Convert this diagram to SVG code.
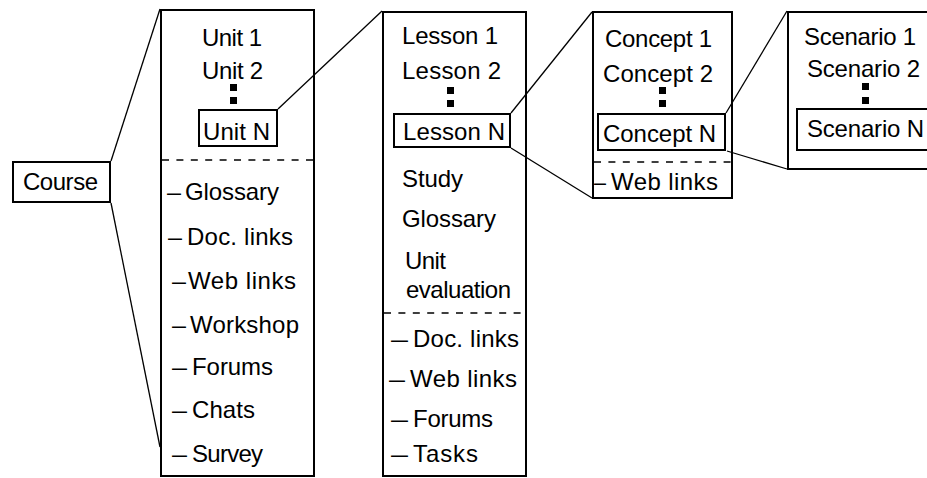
<svg xmlns="http://www.w3.org/2000/svg" width="927" height="478" viewBox="0 0 927 478">
<style>
.box{fill:none;stroke:#000;stroke-width:2}
.dash{fill:none;stroke:#000;stroke-width:1.6;stroke-dasharray:7 7.4}
.con{fill:none;stroke:#000;stroke-width:1.3}
.dot{fill:#000}
text{font-family:"Liberation Sans",Arial,sans-serif;font-size:24px;fill:#000}
</style>
<rect width="927" height="478" fill="#fff"/>
<g id="connectors">
<line class="con" x1="111" y1="161" x2="160" y2="9"/>
<line class="con" x1="111" y1="203" x2="160" y2="447"/>
<line class="con" x1="278" y1="109" x2="382" y2="11"/>
<line class="con" x1="511" y1="113" x2="592" y2="12"/>
<line class="con" x1="511" y1="148" x2="592" y2="198"/>
<line class="con" x1="726" y1="113" x2="787" y2="11"/>
<line class="con" x1="727" y1="151" x2="787" y2="169"/>
</g>
<g id="course">
<rect class="box" x="13" y="162" width="97" height="40"/>
<text x="23" y="190" textLength="75" lengthAdjust="spacing">Course</text>
</g>
<g id="units">
<rect class="box" x="161" y="10" width="153" height="466"/>
<text x="202" y="46" textLength="60" lengthAdjust="spacing">Unit 1</text>
<text x="202" y="79" textLength="61" lengthAdjust="spacing">Unit 2</text>
<rect class="dot" x="230" y="84" width="7" height="7"/>
<rect class="dot" x="230" y="97" width="7" height="7"/>
<g id="unitN">
<rect class="box" x="199" y="110" width="78" height="36"/>
<text x="203" y="140" textLength="67" lengthAdjust="spacing">Unit N</text>
</g>
<line class="dash" x1="162" y1="160" x2="314" y2="160"/>
<text y="200"><tspan x="167" textLength="14" lengthAdjust="spacingAndGlyphs">–</tspan><tspan x="185" textLength="94" lengthAdjust="spacing">Glossary</tspan></text>
<text y="245"><tspan x="168" textLength="14" lengthAdjust="spacingAndGlyphs">–</tspan><tspan x="187" textLength="106" lengthAdjust="spacing">Doc. links</tspan></text>
<text y="289"><tspan x="172" textLength="14" lengthAdjust="spacingAndGlyphs">–</tspan><tspan x="188" textLength="108" lengthAdjust="spacing">Web links</tspan></text>
<text y="333"><tspan x="172" textLength="14" lengthAdjust="spacingAndGlyphs">–</tspan><tspan x="190" textLength="109" lengthAdjust="spacing">Workshop</tspan></text>
<text y="375"><tspan x="172" textLength="15" lengthAdjust="spacingAndGlyphs">–</tspan><tspan x="192" textLength="81" lengthAdjust="spacing">Forums</tspan></text>
<text y="418"><tspan x="172" textLength="15" lengthAdjust="spacingAndGlyphs">–</tspan><tspan x="192" textLength="63" lengthAdjust="spacing">Chats</tspan></text>
<text y="462"><tspan x="172" textLength="15" lengthAdjust="spacingAndGlyphs">–</tspan><tspan x="192" textLength="71" lengthAdjust="spacing">Survey</tspan></text>
</g>
<g id="lessons">
<rect class="box" x="383" y="12" width="143" height="464"/>
<text x="402" y="44" textLength="96" lengthAdjust="spacing">Lesson 1</text>
<text x="402" y="79" textLength="99" lengthAdjust="spacing">Lesson 2</text>
<rect class="dot" x="447" y="87" width="7" height="7"/>
<rect class="dot" x="447" y="100" width="7" height="7"/>
<g id="lessonN">
<rect class="box" x="394" y="114" width="116" height="33"/>
<text x="403" y="140" textLength="102" lengthAdjust="spacing">Lesson N</text>
</g>
<text x="402" y="187" textLength="61" lengthAdjust="spacing">Study</text>
<text x="402" y="227" textLength="94" lengthAdjust="spacing">Glossary</text>
<text x="405" y="269" textLength="41" lengthAdjust="spacing">Unit</text>
<text x="406" y="298" textLength="105" lengthAdjust="spacing">evaluation</text>
<line class="dash" x1="384" y1="313" x2="526" y2="313"/>
<text y="347"><tspan x="391" textLength="17" lengthAdjust="spacingAndGlyphs">–</tspan><tspan x="413" textLength="106" lengthAdjust="spacing">Doc. links</tspan></text>
<text y="387"><tspan x="389" textLength="16" lengthAdjust="spacingAndGlyphs">–</tspan><tspan x="410" textLength="107" lengthAdjust="spacing">Web links</tspan></text>
<text y="427"><tspan x="391" textLength="17" lengthAdjust="spacingAndGlyphs">–</tspan><tspan x="413" textLength="80" lengthAdjust="spacing">Forums</tspan></text>
<text y="462"><tspan x="391" textLength="17" lengthAdjust="spacingAndGlyphs">–</tspan><tspan x="413" textLength="65" lengthAdjust="spacing">Tasks</tspan></text>
</g>
<g id="concepts">
<rect class="box" x="593" y="12" width="139" height="186"/>
<text x="605" y="47" textLength="107" lengthAdjust="spacing">Concept 1</text>
<text x="603" y="82" textLength="110" lengthAdjust="spacing">Concept 2</text>
<rect class="dot" x="659" y="87" width="7" height="7"/>
<rect class="dot" x="659" y="100" width="7" height="7"/>
<g id="conceptN">
<rect class="box" x="598" y="114" width="127" height="36"/>
<text x="603" y="142" textLength="113" lengthAdjust="spacing">Concept N</text>
</g>
<line class="dash" x1="594" y1="162" x2="732" y2="162"/>
<text y="190"><tspan x="594" textLength="12" lengthAdjust="spacingAndGlyphs">–</tspan><tspan x="611" textLength="107" lengthAdjust="spacing">Web links</tspan></text>
</g>
<g id="scenarios">
<rect class="box" x="788" y="12" width="150" height="157"/>
<text x="804" y="45" textLength="112" lengthAdjust="spacing">Scenario 1</text>
<text x="807" y="77" textLength="113" lengthAdjust="spacing">Scenario 2</text>
<rect class="dot" x="862" y="83" width="7" height="7"/>
<rect class="dot" x="862" y="97" width="7" height="7"/>
<g id="scenarioN">
<rect class="box" x="797" y="109" width="140" height="41"/>
<text x="807" y="137" textLength="117" lengthAdjust="spacing">Scenario N</text>
</g>
</g>
</svg>
